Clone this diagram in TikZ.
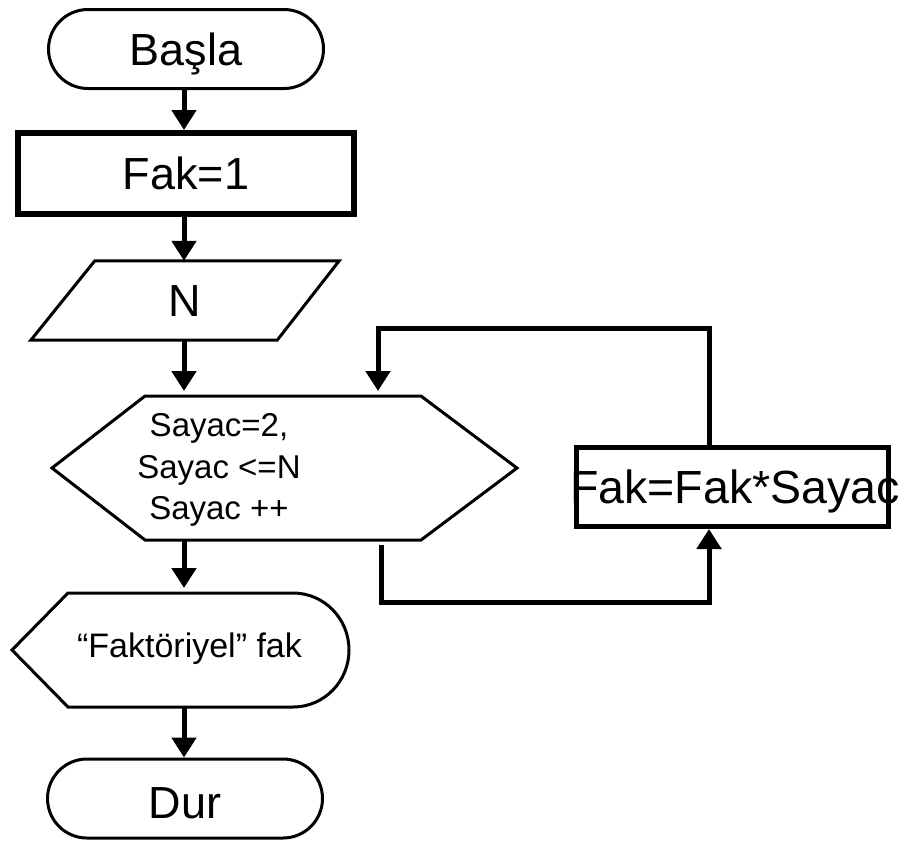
\documentclass[tikz,border=0pt]{standalone}
\usepackage{fontspec}
\setmainfont{Liberation Sans}
\usetikzlibrary{arrows.meta,calc}

\begin{document}
\begin{tikzpicture}[x=1pt,y=-1pt,
  conn/.style={line width=5pt,-{Triangle[length=20pt,width=24pt]}},
  outline/.style={line width=3pt,line join=miter},
  bigtext/.style={font=\fontsize{45}{54}\selectfont,text height=32.2pt,text depth=0pt,inner sep=0pt},
  terminal/.style={draw,line width=3pt,rounded corners=39.5pt,minimum width=275pt,minimum height=79pt,bigtext},
  shapebox/.style={inner sep=0pt,outer sep=0pt},
]
\useasboundingbox (0,0) rectangle (904,841);
\fill[white] (0,0) rectangle (904,841);

% main column of the flowchart
\node[terminal] (start) at (186,49) {Başla};
\node[draw,line width=6pt,minimum width=336pt,minimum height=81pt,bigtext] (init) at (186,173.5) {Fak=1};

% input parallelogram
\node[bigtext,minimum width=308pt,minimum height=79pt] (inp) at (185,300.5) {N};
\draw[outline] (inp.south west) -- ($(inp.north west)+(64,0)$) -- (inp.north east)
  -- ($(inp.south east)+(-62,0)$) -- cycle;

% loop hexagon
\node[shapebox,minimum width=465pt,minimum height=144pt] (loop) at (284.5,468) {};
\draw[outline] (loop.west) -- ($(loop.north west)+(93,0)$) -- ($(loop.north east)+(-96,0)$)
  -- (loop.east) -- ($(loop.south east)+(-96,0)$) -- ($(loop.south west)+(93,0)$) -- cycle;
\node[font=\fontsize{33}{41.5}\selectfont,align=center,inner sep=0pt] (cond) at (219,470)
  {Sayac=2,\\Sayac <=N\\Sayac ++};

% loop body
\node[draw,line width=5pt,minimum width=312pt,minimum height=79pt] (body) at (732.5,487) {};
\node[font=\fontsize{46.5}{56}\selectfont,text height=33.3pt,text depth=0pt,inner sep=0pt]
  (bodytext) at (735,486.5) {Fak=Fak*Sayac};

% display shape
\node[shapebox,minimum width=337pt,minimum height=114pt] (out) at (180.5,650) {};
\draw[outline] (out.west) -- ($(out.north west)+(56,0)$) -- ($(out.north east)+(-56,0)$)
  .. controls ($(out.north east)+(-25,0)$) and ($(out.east)+(0,-31.5)$) .. (out.east)
  .. controls ($(out.east)+(0,31.5)$) and ($(out.south east)+(-25,0)$) .. ($(out.south east)+(-56,0)$)
  -- ($(out.south west)+(56,0)$) -- cycle;
\node[font=\fontsize{34}{41}\selectfont,text height=24.3pt,text depth=0pt,inner sep=0pt]
  (outtext) at (189.5,645) {“Faktöriyel” fak};

\node[terminal] (stop) at (185,798.5) {\raisebox{-4pt}{Dur}};

% connector guides
\coordinate (col) at (184,0);
\coordinate (vx) at (709,0);
\coordinate (jx) at (381,0);
\coordinate (low) at (381,602);
\coordinate (ret) at (378,328);

% straight connectors
\draw[conn] (col |- start.south) -- (col |- init.north);
\draw[conn] (col |- init.south) -- (col |- inp.north);
\draw[conn,shorten >=5pt] (col |- inp.south) -- (col |- loop.north);
\draw[conn,shorten >=5pt] (col |- loop.south) -- (col |- out.north);
\draw[conn] (col |- out.south) -- (col |- stop.north);

% loop connectors
\draw[conn,shorten <=5pt] (jx |- loop.south) -- (low) -| (vx |- body.south);
\draw[conn,shorten >=5pt] (vx |- body.north) |- (ret) -- (ret |- loop.north);
\end{tikzpicture}
\end{document}
